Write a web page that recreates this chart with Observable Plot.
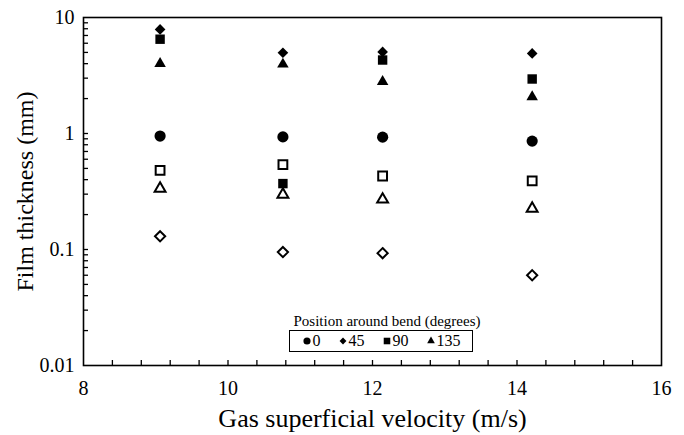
<!DOCTYPE html>
<html><head><meta charset="utf-8">
<script src="https://cdn.jsdelivr.net/npm/d3@7"></script>
<script src="https://cdn.jsdelivr.net/npm/@observablehq/plot@0.6"></script>
<style>
body{margin:0;background:#fff;font-family:"Liberation Serif","Times New Roman",serif;color:#000;}
#wrap{position:relative;width:684px;height:435px;}
#legTitle{position:absolute;left:287px;width:200px;top:312px;font-size:15px;line-height:18px;text-align:center;white-space:nowrap;}
#legBox{position:absolute;left:289px;top:330px;width:182px;height:20px;border:1.5px solid #000;background:#fff;display:flex;align-items:center;justify-content:center;gap:17px;font-size:16px;line-height:18px;}
.item{display:flex;align-items:center;}
.item svg{margin-right:1px;}
</style></head><body><div id="wrap"></div>
<script>
// Gas superficial velocity (m/s)
const velocity = [9.06, 10.76, 12.14, 14.21];
// Film thickness (mm), filled symbols: position around bend (degrees)
const pos0   = [0.95, 0.935, 0.93, 0.86];
const pos45  = [7.9, 4.97, 5.05, 4.9];
const pos90  = [6.5, 0.37, 4.3, 2.95];
const pos135 = [4.0, 3.95, 2.8, 2.07];
// Film thickness (mm), open symbols
const openSquare   = [0.48, 0.54, 0.43, 0.39];
const openTriangle = [0.335, 0.297, 0.27, 0.225];
const openDiamond  = [0.13, 0.095, 0.093, 0.06];

const legendTitle = "Position around bend (degrees)";
const legendLabels = ["0", "45", "90", "135"];
const xLabel = "Gas superficial velocity (m/s)";
const yLabel = "Film thickness (mm)";
const xMajorTicks = [8, 10, 12, 14, 16];
const xMinorTicks = [8.4, 8.8, 9.2, 9.6, 10.4, 10.8, 11.2, 11.6, 12.4, 12.8, 13.2, 13.6, 14.4, 14.8, 15.2, 15.6];
const yMajorTicks = [0.01, 0.1, 1, 10];
const yMinorTicks = [0.02,0.03,0.04,0.05,0.06,0.07,0.08,0.09,0.2,0.3,0.4,0.5,0.6,0.7,0.8,0.9,2,3,4,5,6,7,8,9];

const rows = (ys) => velocity.map((v, i) => ({v, t: ys[i]}));

const filledSpecs = [
  {data: pos0, symbol: "circle", r: 5.6},
  {data: pos45, symbol: "diamond2", r: 4.8},
  {data: pos90, symbol: "square2", r: 6},
  {data: pos135, symbol: "triangle2", r: 5.5}
];
const openSpecs = [
  {data: openSquare, symbol: "square2", r: 5.6},
  {data: openTriangle, symbol: "triangle2", r: 5.2},
  {data: openDiamond, symbol: "diamond2", r: 4.6}
];

const W = 684, H = 435, mL = 83, mR = 23, mT = 17, mB = 70;
const frameW = W - mL - mR, frameH = H - mT - mB, tickLen = 5;

const chart = Plot.plot({
  width: W, height: H,
  marginLeft: mL, marginRight: mR, marginTop: mT, marginBottom: mB,
  style: {fontFamily: '"Liberation Serif","Times New Roman",serif', fontSize: "20px", color: "black", background: "white", overflow: "visible"},
  x: {domain: [8, 16]},
  y: {type: "log", domain: [0.01, 10]},
  marks: [
    // inward tick marks
    Plot.ruleX(xMinorTicks.concat(xMajorTicks.slice(1, -1)), {stroke: "black", strokeWidth: 1.3, insetTop: frameH - tickLen}),
    Plot.ruleY(yMinorTicks.concat([0.1, 1]), {stroke: "black", strokeWidth: 1.3, insetRight: frameW - tickLen}),
    Plot.axisX({ticks: xMajorTicks, tickSize: 0, tickPadding: 15, tickFormat: d => String(d), label: null, fontSize: 20}),
    Plot.axisX({ticks: [], tickSize: 0, label: xLabel, labelAnchor: "center", labelOffset: 61, labelArrow: "none", fontSize: 26}),
    Plot.axisY({ticks: yMajorTicks, tickSize: 0, tickPadding: 9, tickFormat: d => String(d), label: null, fontSize: 20}),
    Plot.axisY({ticks: [], tickSize: 0, label: yLabel, labelAnchor: "center", labelOffset: 68, labelArrow: "none", fontSize: 24}),
    Plot.frame({stroke: "black", strokeWidth: 1.6}),
    ...openSpecs.map(s => Plot.dot(rows(s.data), {x: "v", y: "t", symbol: s.symbol, r: s.r, fill: "none", stroke: "black", strokeWidth: 2})),
    ...filledSpecs.map(s => Plot.dot(rows(s.data), {x: "v", y: "t", symbol: s.symbol, r: s.r, fill: "black", stroke: "none"}))
  ]
});

const wrap = document.getElementById("wrap");
wrap.appendChild(chart);

// legend (inside plot area, bottom centre)
const lt = document.createElement("div");
lt.id = "legTitle"; lt.textContent = legendTitle;
wrap.appendChild(lt);
const box = document.createElement("div");
box.id = "legBox";
const legSymbols = [d3.symbolCircle, d3.symbolDiamond2, d3.symbolSquare2, d3.symbolTriangle2];
const legSizes = [40, 30, 55, 42];
legendLabels.forEach((lab, i) => {
  const it = document.createElement("span");
  it.className = "item";
  const svg = d3.create("svg").attr("width", 10).attr("height", 10).attr("viewBox", "-5 -5 10 10");
  svg.append("path").attr("d", d3.symbol(legSymbols[i], legSizes[i])()).attr("fill", "black");
  it.appendChild(svg.node());
  const t = document.createElement("span");
  t.textContent = lab;
  it.appendChild(t);
  box.appendChild(it);
});
wrap.appendChild(box);
</script></body></html>
